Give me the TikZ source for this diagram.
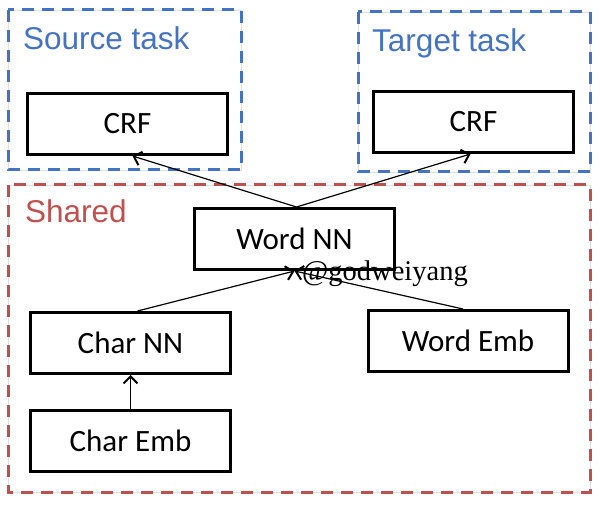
\documentclass[tikz,border=0pt]{standalone}
\usepackage{fontspec}
\setmainfont{Liberation Sans}
\newfontfamily\boxfont{Carlito}
\newfontfamily\wmfont{Liberation Serif}
\usetikzlibrary{arrows.meta,calc}
\definecolor{taskblue}{RGB}{68,114,196}
\definecolor{sharedred}{RGB}{192,80,77}
\begin{document}
\begin{tikzpicture}[x=1pt,y=-1pt,
  box/.style={draw, line width=3pt, minimum width=200pt, minimum height=61pt, inner sep=0pt, font=\boxfont\fontsize{31}{31}\selectfont},
  region/.style={line width=3pt, dash pattern=on 12pt off 8pt},
  faint/.style={draw=gray!25, line width=0.6pt},
  title/.style={anchor=base west, inner sep=0pt, font=\fontsize{31.5}{31.5}\selectfont},
  link/.style={-{Straight Barb[length=7pt,width=14pt,line width=2pt]}, line width=1.2pt}
]
\useasboundingbox (0,0) rectangle (600,505);
% regions
\draw[faint] (8,10) rectangle (241,170);
\draw[region, taskblue] (8,10) rectangle (241,170);
\draw[faint] (358,12) rectangle (590,172);
\draw[region, taskblue] (358,12) rectangle (590,172);
\draw[faint] (8,185) rectangle (590,492);
\draw[region, sharedred] (8,185) rectangle (590,492);
% titles
\node[title, text=taskblue] (srctitle) at (23,50) {Source task};
\node[title, text=taskblue] (tgttitle) at (372,52) {Target task};
\node[title, text=sharedred] (sharedtitle) at (25,223) {Shared};
% boxes
\node[box] (srccrf) at (127.5,124) {CRF};
\node[box] (tgtcrf) at (473.5,122) {CRF};
\node[box] (wordnn) at (294.5,239) {Word NN};
\node[box] (charnn) at (130.5,343) {Char NN};
\node[box] (charemb) at (130.5,441) {Char Emb};
\node[box] (wordemb) at (468,341) {Word Emb};
% connectors
\draw[link] ($(wordnn.north)+(2,0)$) -- ($(srccrf.south)+(5,0)$);
\draw[link] ($(wordnn.north)+(2,0)$) -- ($(tgtcrf.south)+(-3,0)$);
\draw[link] ($(charnn.north)+(7,0)$) -- (wordnn.south);
\draw[link] ($(wordemb.north)+(-5,0)$) -- (wordnn.south);
\draw[link] (charemb.north) -- (charnn.south);
% watermark
\node[anchor=base west, inner sep=0pt, font=\wmfont\fontsize{28.5}{28.5}\selectfont] (wm) at (302,280) {@godweiyang};
\end{tikzpicture}
\end{document}
